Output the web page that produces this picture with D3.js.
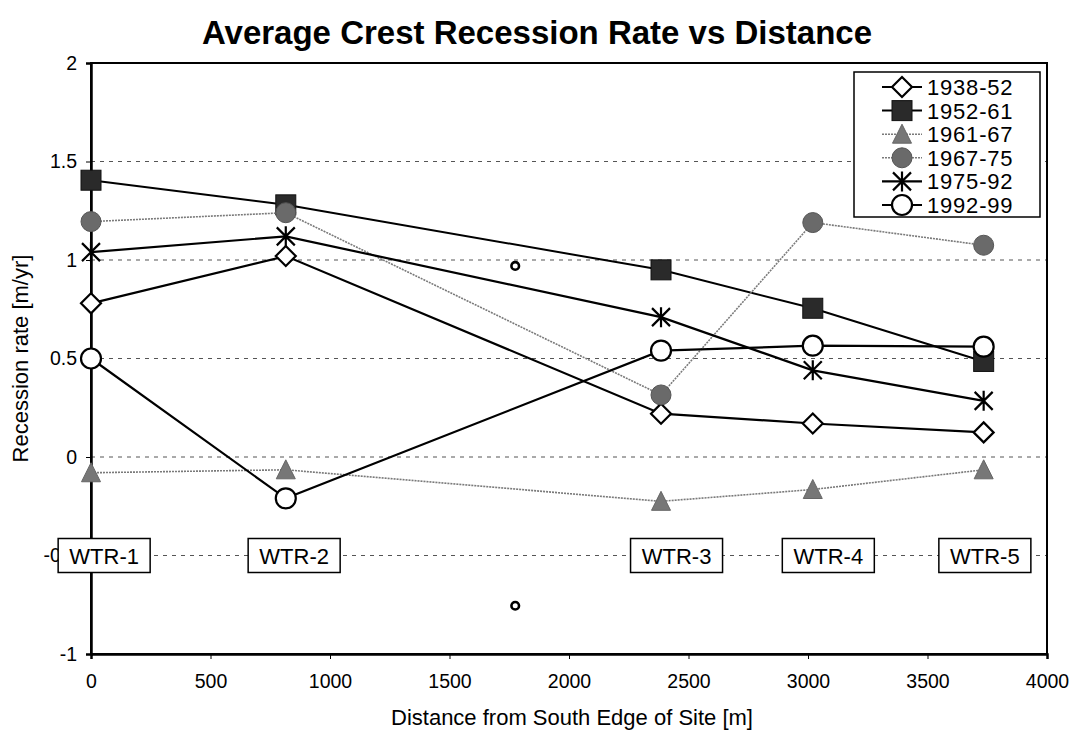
<!DOCTYPE html>
<html>
<head>
<meta charset="utf-8">
<script src="https://cdn.jsdelivr.net/npm/d3@7"></script>
<style>
  html, body { margin: 0; padding: 0; background: #fff; }
  svg { display: block; font-family: "Liberation Sans", Arial, Helvetica, sans-serif; }
</style>
</head>
<body>
<svg id="chart" width="1076" height="738"></svg>
<script>
// ---- data ----
const distances = [0, 815, 2385, 3020, 3735];
const seriesNames = ["1938-52", "1952-61", "1961-67", "1967-75", "1975-92", "1992-99"];
const v1938_52 = [0.78, 1.02, 0.22, 0.17, 0.125];
const v1952_61 = [1.405, 1.28, 0.95, 0.755, 0.485];
const v1961_67 = [-0.08, -0.065, -0.225, -0.165, -0.065];
const v1967_75 = [1.195, 1.24, 0.315, 1.19, 1.075];
const v1975_92 = [1.04, 1.12, 0.71, 0.44, 0.285];
const v1992_99 = [0.50, -0.21, 0.54, 0.565, 0.56];
const strayX = [1775, 1775];
const strayY = [0.97, -0.755];
const stationNames = ["WTR-1", "WTR-2", "WTR-3", "WTR-4", "WTR-5"];
const stationLabelX = [55, 850, 2450, 3085, 3740];
const stationLabelY = -0.5;
const xTicks = [0, 500, 1000, 1500, 2000, 2500, 3000, 3500, 4000];
const yTicks = [-1, -0.5, 0, 0.5, 1, 1.5, 2];
const yTickLabels = ["-1", "-0.5", "0", "0.5", "1", "1.5", "2"];
const gridValues = [-0.5, 0, 0.5, 1, 1.5];

const seriesValues = [v1938_52, v1952_61, v1961_67, v1967_75, v1975_92, v1992_99];

// ---- styles ----
const styles = [
  {marker: "diamond", fill: "#fff", stroke: "#000", line: "#000", width: 2.2, dash: null},
  {marker: "square", fill: "#2a2a2a", stroke: "#111", line: "#000", width: 2, dash: null},
  {marker: "triangle", fill: "#777", stroke: "#666", line: "#7a7a7a", width: 1.6, dash: "2,1"},
  {marker: "circleFilled", fill: "#6a6a6a", stroke: "#555", line: "#7a7a7a", width: 1.6, dash: "2,1"},
  {marker: "star", fill: "none", stroke: "#000", line: "#000", width: 2.2, dash: null},
  {marker: "circleOpen", fill: "#fff", stroke: "#000", line: "#000", width: 2.2, dash: null}
];

const svg = d3.select("#chart");
const x = d3.scaleLinear().domain([0, 4000]).range([91, 1047]);
const y = d3.scaleLinear().domain([-1, 2]).range([654, 63]);

// title
svg.append("text")
  .attr("x", 537).attr("y", 44)
  .attr("text-anchor", "middle")
  .attr("font-size", 33).attr("font-weight", "bold")
  .text("Average Crest Recession Rate vs Distance");

// gridlines
svg.append("g").selectAll("line").data(gridValues).join("line")
  .attr("x1", x(0)).attr("x2", x(4000))
  .attr("y1", d => y(d)).attr("y2", d => y(d))
  .attr("stroke", "#555").attr("stroke-width", 1)
  .attr("stroke-dasharray", "4,5");

// frame
svg.append("rect")
  .attr("x", x(0)).attr("y", y(2))
  .attr("width", x(4000) - x(0)).attr("height", y(-1) - y(2))
  .attr("fill", "none").attr("stroke", "#000").attr("stroke-width", 2);

// axes
const xAxis = svg.append("g").attr("transform", `translate(0,${y(-1)})`)
  .call(d3.axisBottom(x).tickValues(xTicks).tickSize(5).tickFormat(d => String(d)));
xAxis.select(".domain").attr("stroke-width", 2.5);
xAxis.selectAll("text").attr("font-size", 19.5).attr("fill", "#000").attr("dy", "0").attr("y", 34)
  .attr("font-family", "Liberation Sans, Arial, sans-serif");

const yAxis = svg.append("g").attr("transform", `translate(${x(0)},0)`)
  .call(d3.axisLeft(y).tickValues(yTicks).tickSize(5).tickFormat((d, i) => yTickLabels[i]));
yAxis.select(".domain").attr("stroke-width", 2.5);
yAxis.selectAll("text").attr("font-size", 19.5).attr("fill", "#000").attr("x", -14)
  .attr("font-family", "Liberation Sans, Arial, sans-serif");

// axis titles
svg.append("text")
  .attr("x", 572).attr("y", 725)
  .attr("text-anchor", "middle").attr("font-size", 22)
  .text("Distance from South Edge of Site [m]");
svg.append("text")
  .attr("transform", `translate(28,${(y(2) + y(-1)) / 2}) rotate(-90)`)
  .attr("text-anchor", "middle").attr("font-size", 22)
  .text("Recession rate [m/yr]");

// marker drawing
function drawMarker(g, type, st) {
  if (type === "diamond") {
    g.append("path").attr("d", "M0,-10L10,0L0,10L-10,0Z")
      .attr("fill", st.fill).attr("stroke", st.stroke).attr("stroke-width", 2.2);
  } else if (type === "square") {
    g.append("rect").attr("x", -10).attr("y", -10).attr("width", 20).attr("height", 20)
      .attr("fill", st.fill).attr("stroke", st.stroke).attr("stroke-width", 1);
  } else if (type === "triangle") {
    g.append("path").attr("d", "M0,-10L9.5,9L-9.5,9Z")
      .attr("fill", st.fill).attr("stroke", st.stroke).attr("stroke-width", 1);
  } else if (type === "circleFilled") {
    g.append("circle").attr("r", 10)
      .attr("fill", st.fill).attr("stroke", st.stroke).attr("stroke-width", 1);
  } else if (type === "star") {
    g.append("path").attr("d", "M-9,-9L9,9M-9,9L9,-9M0,-10L0,10")
      .attr("fill", "none").attr("stroke", st.stroke).attr("stroke-width", 2.2);
  } else if (type === "circleOpen") {
    g.append("circle").attr("r", 10)
      .attr("fill", st.fill).attr("stroke", st.stroke).attr("stroke-width", 2.2);
  }
}

// series
const line = d3.line().x(d => x(d[0])).y(d => y(d[1]));
seriesValues.forEach((vals, i) => {
  const st = styles[i];
  const pts = distances.map((d, j) => [d, vals[j]]);
  const g = svg.append("g");
  g.append("path").datum(pts).attr("d", line)
    .attr("fill", "none").attr("stroke", st.line).attr("stroke-width", st.width)
    .attr("stroke-dasharray", st.dash);
  pts.forEach(p => {
    const mg = g.append("g").attr("transform", `translate(${x(p[0])},${y(p[1])})`);
    drawMarker(mg, st.marker, st);
  });
});

// stray points
svg.append("g").selectAll("circle").data(strayX.map((d, i) => [d, strayY[i]])).join("circle")
  .attr("cx", d => x(d[0])).attr("cy", d => y(d[1])).attr("r", 3.8)
  .attr("fill", "#fff").attr("stroke", "#000").attr("stroke-width", 2.6);

// station labels
stationNames.forEach((name, i) => {
  const cx = x(stationLabelX[i]), cy = y(stationLabelY);
  const g = svg.append("g").attr("transform", `translate(${cx},${cy})`);
  g.append("rect").attr("x", -46).attr("y", -17).attr("width", 92).attr("height", 34)
    .attr("fill", "#fff").attr("stroke", "#000").attr("stroke-width", 1.5);
  g.append("text").attr("text-anchor", "middle").attr("y", 8)
    .attr("font-size", 22).text(name);
});

// legend
const legend = svg.append("g");
legend.append("rect").attr("x", 854).attr("y", 72).attr("width", 186).attr("height", 145)
  .attr("fill", "#fff").attr("stroke", "#000").attr("stroke-width", 1.5);
seriesNames.forEach((name, i) => {
  const st = styles[i];
  const ly = 87 + i * 23.6;
  legend.append("line").attr("x1", 882).attr("x2", 922).attr("y1", ly).attr("y2", ly)
    .attr("stroke", st.line).attr("stroke-width", st.width).attr("stroke-dasharray", st.dash);
  const mg = legend.append("g").attr("transform", `translate(902,${ly})`);
  drawMarker(mg, st.marker, st);
  legend.append("text").attr("x", 927).attr("y", ly + 8).attr("font-size", 22)
    .attr("letter-spacing", 0.8).text(name);
});
</script>
</body>
</html>
